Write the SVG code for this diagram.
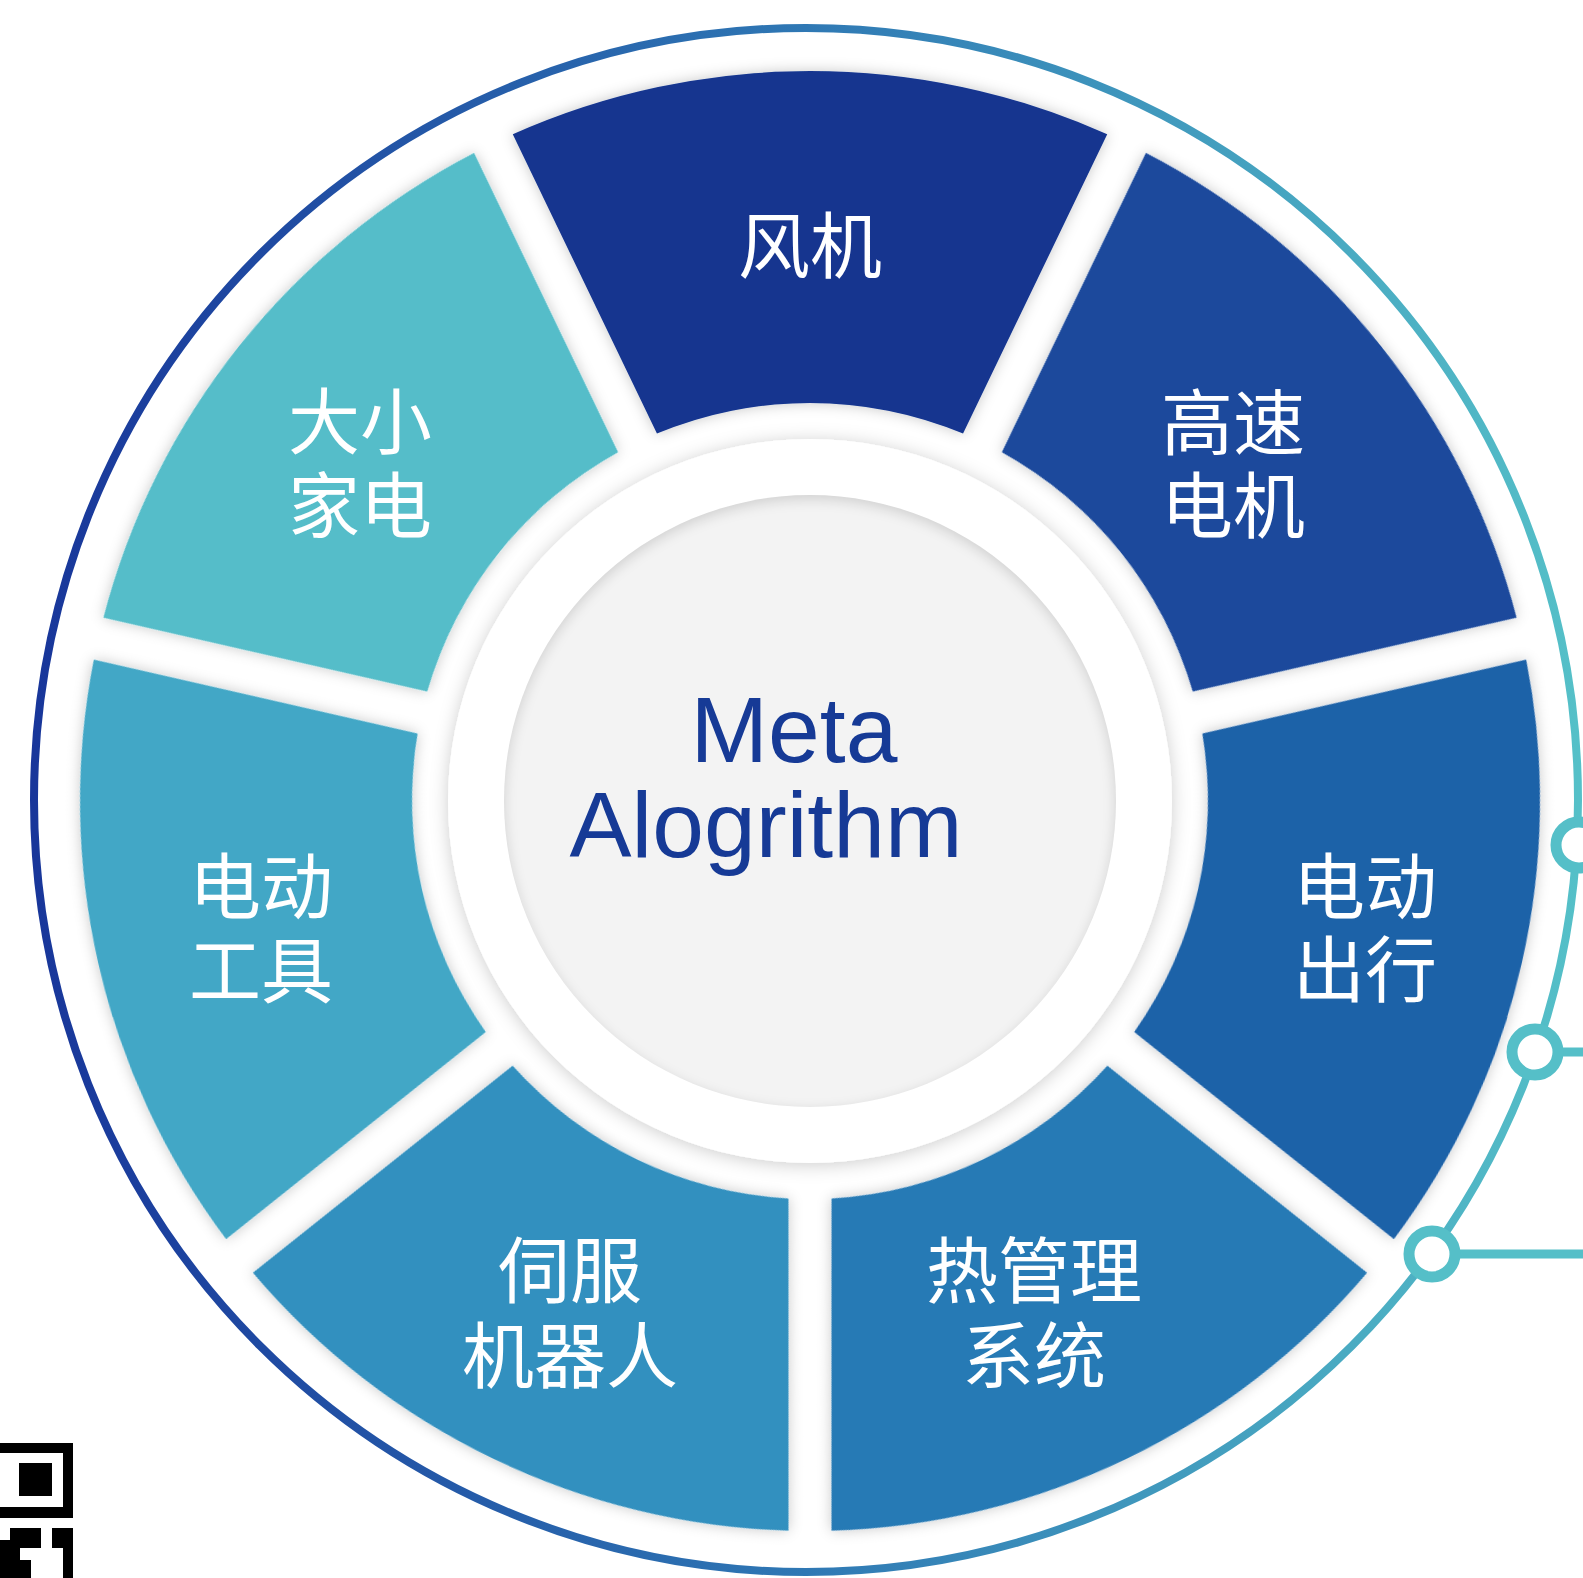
<svg xmlns="http://www.w3.org/2000/svg" width="1583" height="1578" viewBox="0 0 1583 1578">
<defs>
<style>
.lbl{font-family:"Noto Sans CJK SC","Noto Sans",sans-serif;font-size:72px;fill:#ffffff;text-anchor:middle}
.ctr{font-family:"Liberation Sans",Arial,sans-serif;font-size:93px;fill:#163a96;text-anchor:middle}
.teal{stroke:#55bfc8;fill:none}
.qr{fill:#000000}
</style>
<linearGradient id="ringGrad" gradientUnits="userSpaceOnUse" x1="34" y1="0" x2="1578" y2="0">
<stop offset="0" stop-color="#18369a"/>
<stop offset="0.5" stop-color="#2f78b4"/>
<stop offset="1" stop-color="#55c0c8"/>
</linearGradient>
<filter id="shadow" x="-20%" y="-20%" width="140%" height="140%">
<feDropShadow dx="0" dy="0" stdDeviation="7" flood-color="#000" flood-opacity="0.22"/>
</filter>
<filter id="discShadow" x="-20%" y="-20%" width="140%" height="140%">
<feDropShadow dx="0" dy="2" stdDeviation="9" flood-color="#000" flood-opacity="0.2"/>
</filter>
<filter id="blur6"><feGaussianBlur stdDeviation="6"/></filter>
<clipPath id="innerClip"><circle cx="810" cy="801" r="306"/></clipPath>
<path id="sector" d="M512.77,134.25 A730,730 0 0 1 1107.23,134.25 L963.06,433.61 A398,398 0 0 0 656.94,433.61 Z"/>
</defs>
<rect x="0" y="0" width="1583" height="1578" fill="#ffffff"/>

<g id="outer-ring">
<circle cx="806" cy="800" r="772" fill="none" stroke="url(#ringGrad)" stroke-width="8"/>
</g>

<g id="node-fengji">
<use href="#sector" fill="#14368f" filter="url(#shadow)"/>
<text class="lbl" x="810" y="272">风机</text>
</g>
<g id="node-gaosu">
<use href="#sector" fill="#1a4a9c" filter="url(#shadow)" transform="rotate(51.4286 810 801)"/>
<text class="lbl" x="1233" y="449">高速</text>
<text class="lbl" x="1233" y="532">电机</text>
</g>
<g id="node-diandong-chuxing">
<use href="#sector" fill="#1e62a8" filter="url(#shadow)" transform="rotate(102.8571 810 801)"/>
<text class="lbl" x="1365" y="913">电动</text>
<text class="lbl" x="1365" y="996">出行</text>
</g>
<g id="node-reguanli">
<use href="#sector" fill="#287ab5" filter="url(#shadow)" transform="rotate(154.2857 810 801)"/>
<text class="lbl" x="1034" y="1297">热管理</text>
<text class="lbl" x="1034" y="1382">系统</text>
</g>
<g id="node-sifu">
<use href="#sector" fill="#3390bf" filter="url(#shadow)" transform="rotate(205.7143 810 801)"/>
<text class="lbl" x="570" y="1297">伺服</text>
<text class="lbl" x="570" y="1382">机器人</text>
</g>
<g id="node-diandong-gongju">
<use href="#sector" fill="#42a7c6" filter="url(#shadow)" transform="rotate(257.1429 810 801)"/>
<text class="lbl" x="261" y="913">电动</text>
<text class="lbl" x="261" y="997">工具</text>
</g>
<g id="node-jiadian">
<use href="#sector" fill="#54bdc9" filter="url(#shadow)" transform="rotate(308.5714 810 801)"/>
<text class="lbl" x="360" y="448">大小</text>
<text class="lbl" x="360" y="532">家电</text>
</g>

<g id="node-center">
<circle cx="810" cy="801" r="362" fill="#ffffff" filter="url(#discShadow)"/>
<circle cx="810" cy="801" r="306" fill="#f3f3f3"/>
<g clip-path="url(#innerClip)">
<circle cx="810" cy="805" r="318" fill="none" stroke="#000" stroke-opacity="0.13" stroke-width="26" filter="url(#blur6)"/>
</g>
<text class="ctr" x="794" y="762">Meta</text>
<text class="ctr" x="766" y="857">Alogrithm</text>
</g>

<g id="connectors">
<line class="teal" x1="1558" y1="1052" x2="1583" y2="1052" stroke-width="9"/>
<line class="teal" x1="1455" y1="1254" x2="1583" y2="1254" stroke-width="9"/>
<circle class="teal" cx="1579" cy="845" r="23" fill="#ffffff" stroke-width="11" style="fill:#ffffff"/>
<circle class="teal" cx="1535" cy="1052" r="23" stroke-width="11" style="fill:#ffffff"/>
<circle class="teal" cx="1432" cy="1254" r="23" stroke-width="11" style="fill:#ffffff"/>
</g>

<g id="qr">
<rect class="qr" x="0" y="1443" width="73" height="75"/>
<rect x="0" y="1453" width="63" height="54" fill="#ffffff"/>
<rect x="8" y="1453" width="55" height="54" fill="#ffffff"/>
<rect class="qr" x="19" y="1463" width="33" height="33"/>
<rect class="qr" x="10" y="1528" width="31" height="20"/>
<rect class="qr" x="0" y="1540" width="20" height="38"/>
<rect class="qr" x="20" y="1560" width="11" height="18"/>
<rect class="qr" x="52" y="1528" width="21" height="20"/>
<rect class="qr" x="63" y="1548" width="10" height="30"/>
</g>
</svg>
